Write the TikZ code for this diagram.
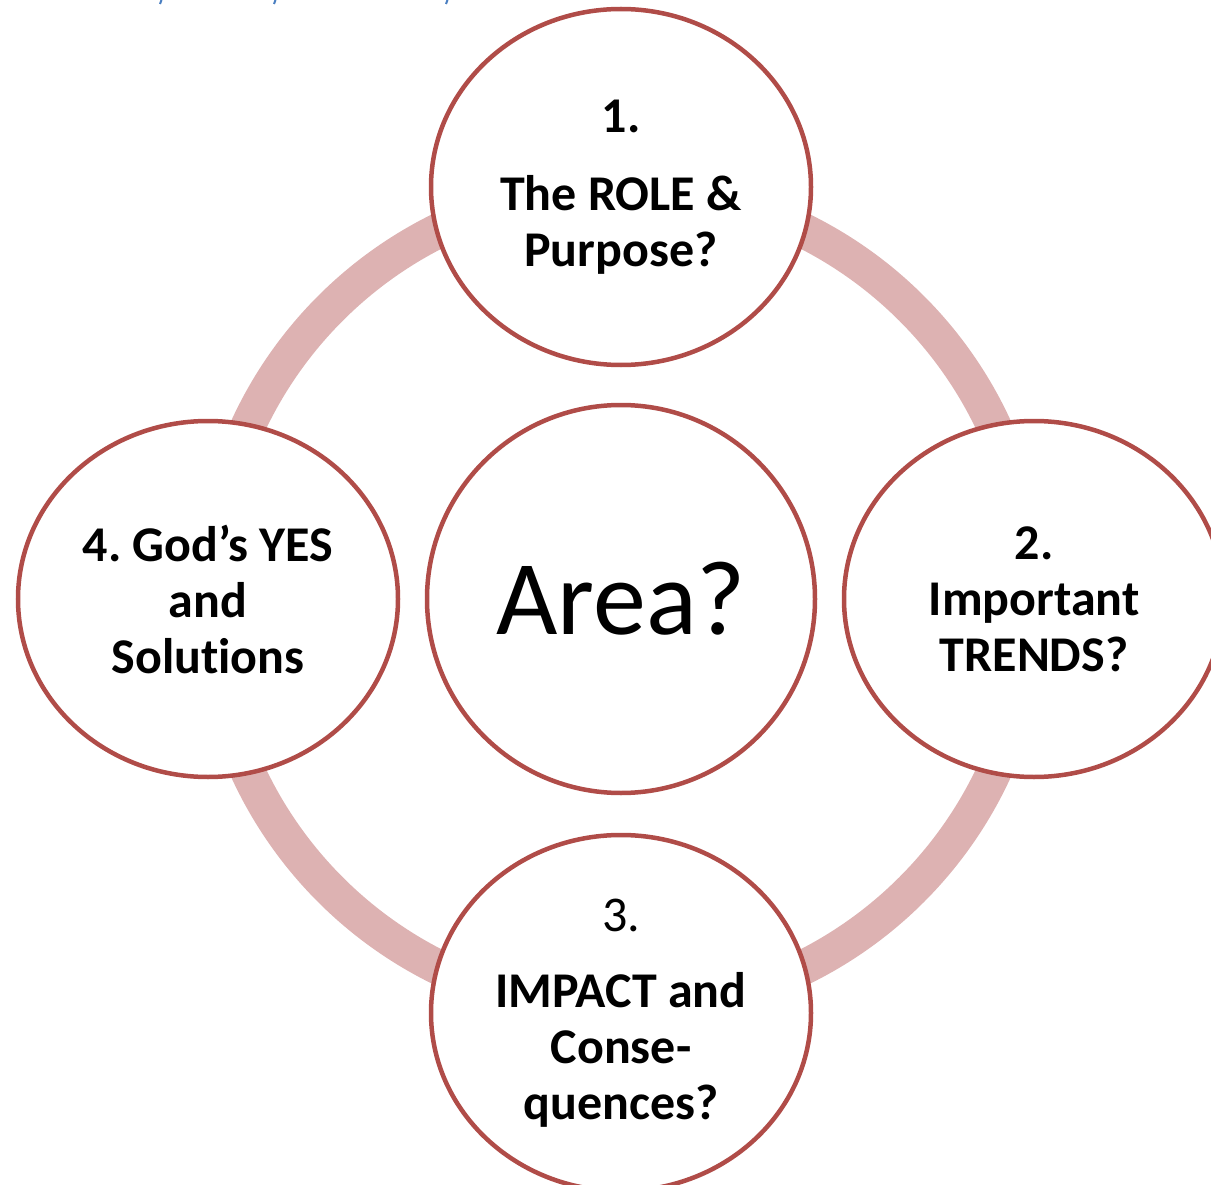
\documentclass[tikz,border=0pt]{standalone}
\usepackage{fontspec}
\setmainfont[Ligatures=NoCommon]{Carlito}
\usetikzlibrary{shapes.geometric,backgrounds}
\definecolor{rimred}{RGB}{176,76,72}
\definecolor{ringpink}{RGB}{221,178,178}
\definecolor{inkblue}{RGB}{74,127,193}
\newcommand{\ringrad}{411}
\frenchspacing

\begin{document}
\begin{tikzpicture}[x=1pt,y=-1pt,
    bubble/.style={ellipse,draw=rimred,line width=4.5pt,fill=white,
      minimum width=380pt,minimum height=356pt,inner sep=0pt,align=center,
      font=\fontsize{50}{56}\selectfont\bfseries},
    hub/.style={circle,draw=rimred,line width=4.5pt,fill=white,
      minimum size=388pt,inner sep=0pt,font=\fontsize{106}{120}\selectfont}]
  \useasboundingbox (0,0) rectangle (1211,1185);

  \node[hub]    (area)  at (621,599)  {Area?};
  \node[bubble] (role)  at (621,187)  {1.\\[22pt]The ROLE \&\\Purpose?};
  \node[bubble] (trend) at (1034,599) {2.\\Important\\TRENDS?};
  \node[bubble] (impact) at (621,1013) {{\mdseries 3.}\\[20pt]IMPACT and\\Conse-\\quences?};
  \node[bubble] (yes)   at (208,599)  {4. God’s YES\\and\\Solutions};

  \begin{scope}[on background layer]
    \draw[ringpink,line width=35pt] (area) circle[radius=\ringrad];
  \end{scope}

  \foreach \bx in {160,274,446}
    \draw[inkblue,line width=2pt] (\bx,4) -- (\bx+1.5,0);

\end{tikzpicture}
\end{document}
